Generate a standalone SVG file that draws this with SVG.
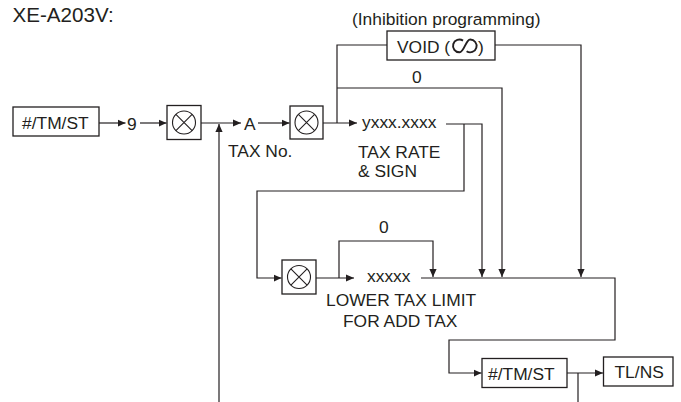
<svg xmlns="http://www.w3.org/2000/svg" width="681" height="402" viewBox="0 0 681 402">
<defs>
<marker id="arr" viewBox="0 0 10 10" refX="10" refY="5" markerWidth="8" markerHeight="8" markerUnits="userSpaceOnUse" orient="auto">
<path d="M0,0.5 L10,5 L0,9.5 z" fill="#231f20"/>
</marker>
<g id="otimes-sym">
<circle cx="0" cy="0" r="11.5" fill="none" stroke="#231f20" stroke-width="1.1"/>
<path d="M-8.1,-8.1 L8.1,8.1 M8.1,-8.1 L-8.1,8.1" stroke="#231f20" stroke-width="1.1"/>
</g>
</defs>
<style>
text{font-family:"Liberation Sans",Arial,Helvetica,sans-serif;font-size:17.4px;fill:#231f20}
.box{fill:#fff;stroke:#231f20;stroke-width:1.3}
.wire{fill:none;stroke:#231f20;stroke-width:1.2}
.arrow{marker-end:url(#arr)}
</style>
<rect width="681" height="402" fill="#fff"/>
<text id="title" x="12.5" y="21.5" style="font-size:20.6px">XE-A203V:</text>
<text id="inhibition" x="352" y="25">(Inhibition programming)</text>

<g id="connectors">
<path class="wire arrow" d="M99,123 H125.5"/>
<path class="wire arrow" d="M140,123 H166.5"/>
<path class="wire arrow" d="M201,123 H241"/>
<path class="wire arrow" d="M219,402 V124"/>
<path class="wire arrow" d="M258,123 H289.5"/>
<path class="wire arrow" d="M323,123 H357"/>
<path class="wire" d="M337,123 V45 H387"/>
<path class="wire arrow" d="M495,45 H581 V277"/>
<path class="wire arrow" d="M337,88 H502 V277"/>
<path class="wire arrow" d="M446,124 H482 V277"/>
<path class="wire arrow" d="M464,124 V191 H257 V278 H281.5"/>
<path class="wire arrow" d="M316,278 H354"/>
<path class="wire arrow" d="M339,278 V241 H433 V277"/>
<path class="wire arrow" d="M421,278 H615 V340 H449 V373 H481.5"/>
<path class="wire arrow" d="M567,373 H603"/>
<path class="wire" d="M578,373 V402"/>
</g>

<g id="start-key">
<rect class="box" x="13" y="107" width="86" height="29"/>
<text x="22" y="128.5">#/TM/ST</text>
</g>
<g id="nine"><text x="127" y="129.5">9</text></g>
<g id="mult1">
<rect class="box" x="167" y="105.5" width="34" height="34"/>
<use href="#otimes-sym" x="184" y="122.5"/>
</g>
<g id="taxno">
<text x="244" y="129.5">A</text>
<text x="228" y="157">TAX No.</text>
</g>
<g id="mult2">
<rect class="box" x="290" y="106" width="33" height="33"/>
<use href="#otimes-sym" x="306.5" y="122.5"/>
</g>
<g id="void-key">
<rect class="box" x="387" y="31" width="108" height="29"/>
<text x="397" y="53">VOID (</text>
<path d="M463,40.6 A6.4,6.4 0 1 0 459.6,52.3 C464,52.3 466,39.5 470,39.5 A6.4,6.4 0 1 1 466.6,51.2" fill="none" stroke="#231f20" stroke-width="1.9"/>
<text x="478" y="53">)</text>
</g>
<g id="zero1"><text x="412" y="83">0</text></g>
<g id="taxrate">
<text x="362" y="128">yxxx.xxxx</text>
<text x="358" y="158">TAX RATE</text>
<text x="358" y="177">&amp; SIGN</text>
</g>
<g id="mult3">
<rect class="box" x="282" y="260" width="34" height="34"/>
<use href="#otimes-sym" x="299" y="277"/>
</g>
<g id="zero2"><text x="379" y="233">0</text></g>
<g id="lowerlimit">
<text x="367" y="282">xxxxx</text>
<text x="326" y="306">LOWER TAX LIMIT</text>
<text x="343" y="327">FOR ADD TAX</text>
</g>
<g id="end-key">
<rect class="box" x="482" y="358.5" width="85" height="29"/>
<text x="488" y="380">#/TM/ST</text>
</g>
<g id="tlns-key">
<rect class="box" x="603.5" y="357" width="69.5" height="29"/>
<text x="614.5" y="378">TL/NS</text>
</g>
</svg>
